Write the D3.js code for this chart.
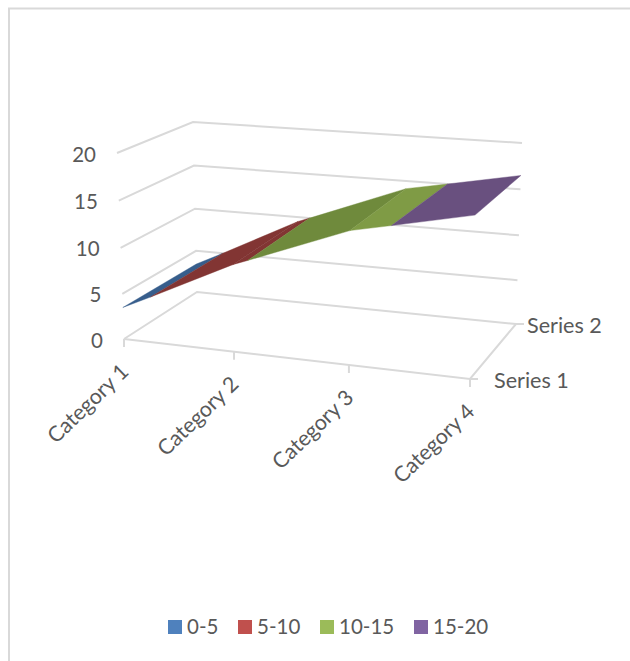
<!DOCTYPE html>
<html>
<head>
  <meta charset="utf-8">
  <title>3D surface chart</title>
  <script src="https://d3js.org/d3.v7.min.js"></script>
  <style>
  body { margin: 0; background: white; }
  text { font-family: Lato, "Open Sans", sans-serif; fill: #595959; }
  </style>
</head>
<body>
  <div id='container'></div>
  <script>

  // values
  var categories = ['Category 1', 'Category 2', 'Category 3', 'Category 4']
  var seriesNames = ['Series 1', 'Series 2']
  var series1 = [3.5, 9.4, 14.1, 16.8]
  var series2 = [3.4, 9.5, 14.15, 16.5]
  var valueTicks = [0, 5, 10, 15, 20]
  var bands = ['0-5', '5-10', '10-15', '15-20']
  var legendColors = ['#4F81BD', '#C0504D', '#9BBB59', '#8064A2']

  // surface shading differs for each segment between two categories
  var shaded = [
    ['#375E8C', '#823533', '#6F8A3C', '#6F8A3C'],
    ['#375E8C', '#823533', '#6F8A3C', '#69507F'],
    ['#375E8C', '#823533', '#7F9B45', '#69507F']
  ]

  const width = 630
  const height = 661
  const gridColor = '#D9D9D9'

  var svg = d3.select('#container')
    .append('svg')
    .attr('width', width)
    .attr('height', height)

  // box corners on screen: [series][bottom/top]
  var box = {
    frontLeft:  [[124, 339], [117, 153]],
    frontRight: [[470, 379], [476, 183]],
    backLeft:   [[197, 292], [193, 122]],
    backRight:  [[516, 324], [522, 143]]
  }

  // category spacing opens up towards the viewer, value spacing a little towards the top
  var catScale = d3.scaleLinear().domain([0, 1, 2, 3]).range([0, 0.318, 0.65, 1])
  var serScale = d3.scaleLinear().domain([0, 1]).range([0, 1])
  var zScale = d3.scaleLinear().domain(valueTicks).range([0, 0.242, 0.49, 0.744, 1])

  function lerp(a, b, t) {
    return [a[0] + (b[0] - a[0]) * t, a[1] + (b[1] - a[1]) * t]
  }

  // c = category index, s = series index, z = value
  function project(c, s, z) {
    var u = catScale(c), v = serScale(s), w = zScale(z)
    var fl = lerp(box.frontLeft[0], box.frontLeft[1], w)
    var fr = lerp(box.frontRight[0], box.frontRight[1], w)
    var bl = lerp(box.backLeft[0], box.backLeft[1], w)
    var br = lerp(box.backRight[0], box.backRight[1], w)
    return lerp(lerp(fl, fr, u), lerp(bl, br, u), v)
  }

  var line = d3.line()

  function gridPath(pts) {
    svg.append('path')
      .attr('d', line(pts))
      .style('fill', 'none')
      .style('stroke', gridColor)
      .style('stroke-width', 2)
  }

  // chart border, only top and left show in the crop
  gridPath([[9, height], [9, 8.5], [width, 8.5]])

  // walls
  valueTicks.forEach(function(z) {
    gridPath([project(0, 0, z), project(0, 1, z), project(3, 1, z)])
  })

  // floor
  gridPath([project(0, 0, 0), project(3, 0, 0), project(3, 1, 0)])

  // category ticks
  categories.forEach(function(d, i) {
    var p = project(i, 0, 0)
    gridPath([p, [p[0], p[1] + 8]])
  })

  // series ticks
  seriesNames.forEach(function(d, i) {
    var p = project(3, i, 0)
    gridPath([p, [p[0] + 8, p[1]]])
  })

  // clip a polygon of [c, s, z] against a value limit
  function clip(poly, limit, keepAbove) {
    var out = []
    poly.forEach(function(a, i) {
      var b = poly[(i + 1) % poly.length]
      var aIn = keepAbove ? a[2] >= limit : a[2] <= limit
      var bIn = keepAbove ? b[2] >= limit : b[2] <= limit
      if (aIn) out.push(a)
      if (aIn !== bIn) {
        var t = (limit - a[2]) / (b[2] - a[2])
        out.push([a[0] + (b[0] - a[0]) * t, a[1] + (b[1] - a[1]) * t, limit])
      }
    })
    return out
  }

  // surface, one polygon per segment and band
  d3.range(categories.length - 1).forEach(function(i) {
    var quad = [
      [i, 0, series1[i]],
      [i + 1, 0, series1[i + 1]],
      [i + 1, 1, series2[i + 1]],
      [i, 1, series2[i]]
    ]
    bands.forEach(function(b, k) {
      var poly = clip(clip(quad, valueTicks[k], true), valueTicks[k + 1], false)
      if (poly.length < 3) return
      svg.append('path')
        .attr('d', line(poly.map(function(p) { return project(p[0], p[1], p[2]) })) + 'Z')
        .style('fill', shaded[i][k])
        .style('stroke', shaded[i][k])
        .style('stroke-width', 0.4)
    })
  })

  // value labels
  svg.selectAll('.valueLabel')
    .data(valueTicks)
    .enter()
    .append('text')
    .classed('valueLabel', true)
    .attr('x', function(d) { return project(0, 0, d)[0] - 21 })
    .attr('y', function(d) { return project(0, 0, d)[1] + 8.5 })
    .attr('text-anchor', 'end')
    .style('font-size', '20.5px')
    .text(function(d) { return d })

  // category labels
  svg.selectAll('.catLabel')
    .data(categories)
    .enter()
    .append('text')
    .classed('catLabel', true)
    .attr('transform', function(d, i) {
      var p = project(i, 0, 0)
      return 'translate(' + (p[0] + 6) + ',' + (p[1] + 34) + ') rotate(-44)'
    })
    .attr('text-anchor', 'end')
    .style('font-size', '21.4px')
    .text(function(d) { return d })

  // series labels
  var serOffset = d3.scaleLinear().domain([0, 1]).range([24, 11])

  svg.selectAll('.serLabel')
    .data(seriesNames)
    .enter()
    .append('text')
    .classed('serLabel', true)
    .attr('x', function(d, i) { return project(3, i, 0)[0] + serOffset(i) })
    .attr('y', function(d, i) { return project(3, i, 0)[1] + 9 })
    .style('font-size', '21.6px')
    .text(function(d) { return d })

  // legend
  var legendX = [168, 238, 320, 414]

  var legend = svg.selectAll('.legendItem')
    .data(bands)
    .enter()
    .append('g')
    .classed('legendItem', true)
    .attr('transform', function(d, i) { return 'translate(' + legendX[i] + ',620)' })

  legend.append('rect')
    .attr('width', 14)
    .attr('height', 14)
    .style('fill', function(d, i) { return legendColors[i] })

  legend.append('text')
    .attr('x', 19)
    .attr('y', 14)
    .style('font-size', '20.5px')
    .text(function(d) { return d })

  </script>
</body>
</html>
